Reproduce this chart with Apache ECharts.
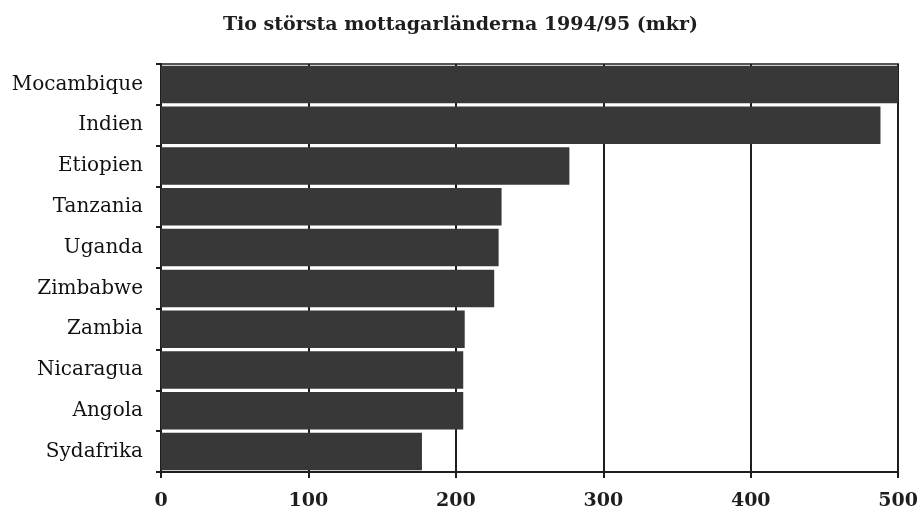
<!DOCTYPE html>
<html>
<head>
<meta charset="utf-8">
<script src="https://cdn.jsdelivr.net/npm/echarts@6/dist/echarts.min.js"></script>
<style>
  html, body { margin: 0; padding: 0; background: #fff; }
  #chart { width: 921px; height: 519px; }
</style>
</head>
<body>
<div id="chart"></div>
<script>
var titleText = 'Tio största mottagarländerna 1994/95 (mkr)';
var countries = ['Mocambique', 'Indien', 'Etiopien', 'Tanzania', 'Uganda',
                 'Zimbabwe', 'Zambia', 'Nicaragua', 'Angola', 'Sydafrika'];
var amounts = [500, 488, 277, 231, 229, 226, 206, 205, 205, 177];

var ink = '#1e1e1e';
var font = 'DejaVu Serif';

var chart = echarts.init(document.getElementById('chart'));
chart.setOption({
    animation: false,
    title: {
        text: titleText,
        left: 'center',
        top: 11,
        textStyle: {
            fontFamily: font,
            fontSize: 19,
            fontWeight: 'bold',
            color: ink
        }
    },
    grid: {left: 161, right: 21, top: 64, bottom: 47, show: true, borderColor: ink, borderWidth: 1.5},
    xAxis: {
        type: 'value',
        min: 0,
        max: 500,
        interval: 100,
        axisLine: {show: true, lineStyle: {color: ink, width: 2}},
        axisTick: {show: true, length: 6, lineStyle: {color: ink, width: 2}},
        axisLabel: {
            margin: 20,
            fontFamily: font,
            fontSize: 19,
            fontWeight: 'bold',
            color: ink
        },
        splitLine: {show: true, lineStyle: {color: ink, width: 2}}
    },
    yAxis: {
        type: 'category',
        inverse: true,
        data: countries,
        axisLine: {show: true, lineStyle: {color: ink, width: 2}},
        axisTick: {show: true, length: 5, lineStyle: {color: ink, width: 2}},
        axisLabel: {
            margin: 18,
            fontFamily: font,
            fontSize: 20,
            color: '#111'
        }
    },
    series: [{
        type: 'bar',
        data: amounts,
        barCategoryGap: '8%',
        itemStyle: {color: '#383838'}
    }]
});
</script>
</body>
</html>
